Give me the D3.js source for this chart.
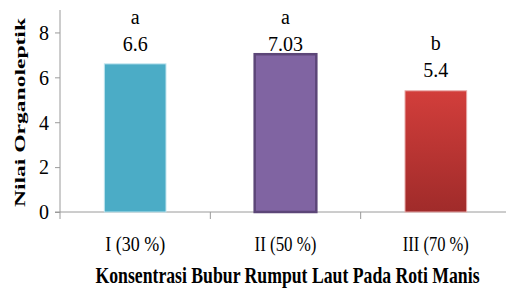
<!DOCTYPE html>
<html><head><meta charset="utf-8">
<script src="https://cdn.jsdelivr.net/npm/d3@7"></script>
<style>body{margin:0;background:#fff}svg{display:block}</style>
</head><body><svg id="c" width="506" height="293"></svg>
<script>
const categories = ["I (30 %)", "II (50 %)", "III (70 %)"];
const values = [6.6, 7.03, 5.4];
const letters = ["a", "a", "b"];
const valueLabels = ["6.6", "7.03", "5.4"];
const yTicks = [0, 2, 4, 6, 8];

const FONT = '"Liberation Serif"';
const svg = d3.select("#c");
const x = d3.scaleBand().domain(categories).range([60, 511]).paddingInner(0.59).paddingOuter(0.295);
const y = d3.scaleLinear().domain([0, 9]).range([212, 10]);

const defs = svg.append("defs");
const g3 = defs.append("linearGradient").attr("id","gRed").attr("x1",0).attr("y1",0).attr("x2",0).attr("y2",1);
g3.append("stop").attr("offset","0%").attr("stop-color","#D23E3B");
g3.append("stop").attr("offset","100%").attr("stop-color","#A02B2A");

const fills = ["#4BACC6", "#8064A2", "url(#gRed)"];
const strokes = ["#BFE4EE", "#5C4678", "#E7A9A8"];
const sw = [1, 2.5, 1];

// y axis
const axisColor = "#9a9a9a";
const yAxis = svg.append("g").attr("transform","translate(60,0)")
  .call(d3.axisLeft(y).tickValues(yTicks).tickSize(5).tickPadding(6).tickSizeOuter(0));
yAxis.select(".domain").remove();
yAxis.append("line").attr("x1",0).attr("x2",0).attr("y1",y(9)).attr("y2",219).attr("stroke",axisColor);
yAxis.selectAll(".tick line").attr("stroke",axisColor);
yAxis.selectAll(".tick text").attr("font-size",20).style("font-family",FONT).attr("fill","#000").attr("dy","0.34em");

// x axis
svg.append("line").attr("x1",55).attr("x2",511).attr("y1",y(0)).attr("y2",y(0)).attr("stroke",axisColor);
const bounds = categories.map(c => x(c) - x.step()*x.paddingInner()/2);
svg.selectAll(".xt").data(bounds.slice(1)).enter().append("line")
  .attr("x1",d=>d).attr("x2",d=>d).attr("y1",y(0)).attr("y2",219).attr("stroke",axisColor);

// bars
svg.selectAll(".bar").data(values).enter().append("rect")
  .attr("x",(d,i)=>x(categories[i]))
  .attr("width",x.bandwidth())
  .attr("y",d=>y(d))
  .attr("height",d=>y(0)-y(d))
  .attr("fill",(d,i)=>fills[i])
  .attr("stroke",(d,i)=>strokes[i])
  .attr("stroke-width",(d,i)=>sw[i]);

// labels
const vBase = d => Math.max(y(d) - 14, 50.5);
svg.selectAll(".vl").data(values).enter().append("text")
  .attr("x",(d,i)=>x(categories[i])+x.bandwidth()/2)
  .attr("y",d=>vBase(d))
  .attr("text-anchor","middle").attr("font-size",20).style("font-family",FONT)
  .text((d,i)=>valueLabels[i]);
svg.selectAll(".ll").data(values).enter().append("text")
  .attr("x",(d,i)=>x(categories[i])+x.bandwidth()/2)
  .attr("y",d=>vBase(d)-27)
  .attr("text-anchor","middle").attr("font-size",20).style("font-family",FONT)
  .text((d,i)=>letters[i]);

// category labels
svg.selectAll(".cl").data(categories).enter().append("text")
  .attr("x",d=>x(d)+x.bandwidth()/2)
  .attr("y",250.5)
  .attr("text-anchor","middle").attr("font-size",20).style("font-family",FONT)
  .attr("textLength",(d,i)=>[60,62,66][i]).attr("lengthAdjust","spacingAndGlyphs")
  .text(d=>d);

// titles
svg.append("text").attr("transform","translate(287.5,282.5) scale(1,1.3)").attr("text-anchor","middle")
  .attr("font-size",17.7).attr("font-weight","bold").style("font-family",FONT)
  .text("Konsentrasi Bubur Rumput Laut Pada Roti Manis");
svg.append("text").attr("transform","translate(24.5,112.5) rotate(-90)").attr("text-anchor","middle")
  .attr("font-size",15).attr("font-weight","bold").style("font-family",FONT)
  .attr("textLength",189).attr("lengthAdjust","spacingAndGlyphs")
  .text("Nilai Organoleptik");
</script></body></html>
